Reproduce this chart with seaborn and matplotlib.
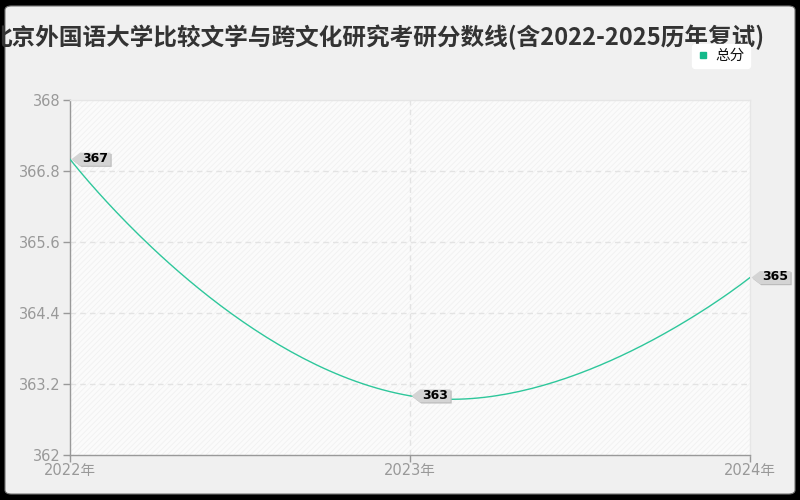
import numpy as np
import matplotlib
matplotlib.use('Agg')
import matplotlib.pyplot as plt
import seaborn as sns
import pandas as pd
from matplotlib.patches import FancyBboxPatch, Rectangle, Polygon
from matplotlib.lines import Line2D

# ---- data ----
years = [2022, 2023, 2024]
year_labels = ['2022年', '2023年', '2024年']
scores = [367, 363, 365]
yticks = [362, 363.2, 364.4, 365.6, 366.8, 368]
ytick_labels = ['362', '363.2', '364.4', '365.6', '366.8', '368']
title = '北京外国语大学比较文学与跨文化研究考研分数线(含2022-2025历年复试)'
series_name = '总分'

LINE_C = '#2ec79b'

sns.set_theme(style='white')
plt.rcParams['font.family'] = ['DejaVu Sans', 'Noto Sans CJK SC']
plt.rcParams['hatch.linewidth'] = 0.6

fig = plt.figure(figsize=(8, 5), dpi=100, facecolor='black')
bg = FancyBboxPatch((5/800, 6/500), 790/800, 488/500,
                    boxstyle='round,pad=0,rounding_size=0.008',
                    transform=fig.transFigure, fc='#f0f0f0', ec='#777777',
                    lw=0.8, zorder=-10)
fig.patches.append(bg)

ax = fig.add_axes([70/800, 45/500, 680/800, 355/500])
ax.set_xlim(2022, 2024)
ax.set_ylim(362, 368)
ax.set_facecolor('#fbfbfb')
ax.add_patch(Rectangle((0, 0), 1, 1, transform=ax.transAxes, fill=False,
                       hatch='//////', ec='#f1f1f1', lw=0, zorder=0))

# grid
for yv in yticks[1:-1]:
    ax.axhline(yv, color='#e3e3e3', lw=1, ls=(0, (4, 3)), zorder=1)
ax.axvline(2023, color='#e3e3e3', lw=1, ls=(0, (4, 3)), zorder=1)

# smooth curve (echarts style bezier in display space)
fig.canvas.draw()
pts = ax.transData.transform(np.column_stack([years, scores]))
smooth = 0.5
n = len(pts)
cp0 = pts[0].copy()
curve = [pts[0]]
for i in range(1, n):
    p = pts[i]
    prev = pts[i - 1]
    if i < n - 1:
        nxt = pts[i + 1]
        v = nxt - prev
        d0 = np.hypot(*(p - prev))
        d1 = np.hypot(*(nxt - p))
        r = d1 / (d0 + d1)
        cp1 = p - v * smooth * (1 - r)
        ncp0 = p + v * smooth * r
    else:
        cp1 = p.copy()
        ncp0 = p.copy()
    t = np.linspace(0, 1, 80)[1:, None]
    b = ((1 - t) ** 3) * prev + 3 * ((1 - t) ** 2) * t * cp0 + 3 * (1 - t) * t ** 2 * cp1 + t ** 3 * p
    curve.extend(list(b))
    cp0 = ncp0
curve = np.array(curve)
curve_data = ax.transData.inverted().transform(curve)
df = pd.DataFrame({'year': curve_data[:, 0], 'score': curve_data[:, 1]})
sns.lineplot(data=df, x='year', y='score', ax=ax, color=LINE_C, lw=1, sort=False,
             estimator=None, zorder=3)

# labels: pointer + box in pixel offsets from the data point
inv = fig.transFigure.inverted()
for xv, yv in zip(years, scores):
    px, py = ax.transData.transform((xv, yv))
    px += 1.5
    shape = np.array([[0, 0], [8.5, -6.5], [39, -6.5], [39, 6.5], [8.5, 6.5]]) + [px, py]
    shadow = shape + [1.2, -1.2]
    fig.patches.append(Polygon(inv.transform(shadow), closed=True, transform=fig.transFigure,
                               fc='#bcbcbc', ec='none', zorder=4))
    fig.patches.append(Polygon(inv.transform(shape), closed=True, transform=fig.transFigure,
                               fc='#d4d4d4', ec='none', zorder=5))
    fig.text(*inv.transform((px + 11, py + 0.5)), f'{yv}', ha='left', va='center',
             fontsize=9, fontweight='bold', color='black', zorder=6)

# axes styling
ax.set_xticks(years)
ax.set_xticklabels(year_labels)
ax.set_yticks(yticks)
ax.set_yticklabels(ytick_labels)
ax.set_xlabel('')
ax.set_ylabel('')
ax.tick_params(axis='both', colors='#999999', labelcolor='#999999', labelsize=10.5,
               length=5, width=1, direction='out', left=True, bottom=True)
ax.tick_params(axis='x', pad=1)
ax.tick_params(axis='y', pad=2)
for s in ['left', 'bottom']:
    ax.spines[s].set_color('#999999')
    ax.spines[s].set_linewidth(1)
for s in ['top', 'right']:
    ax.spines[s].set_color('#e6e6e6')
    ax.spines[s].set_linewidth(1)

# title
fig.text(377/800, 1 - 37/500, title, ha='center', va='center', fontsize=17,
         fontweight='bold', color='#333333', family=['Noto Sans CJK SC', 'DejaVu Sans'])

# legend
h = Line2D([], [], marker='s', color='#13b98a', ls='None', markersize=4.5)
leg = fig.legend([h], [series_name], loc='center', bbox_to_anchor=(721/800, 1 - 56/500),
                 frameon=True, fancybox=True, handlelength=0.8,
                 handletextpad=0.5, borderpad=0.35,
                 prop={'family': ['Noto Sans CJK SC'], 'size': 10.5})
leg.get_frame().set_facecolor('white')
leg.get_frame().set_edgecolor('white')
leg.get_frame().set_alpha(1)
for tx in leg.get_texts():
    tx.set_color('#111111')

fig.savefig('out.png', dpi=100, facecolor=fig.get_facecolor())
